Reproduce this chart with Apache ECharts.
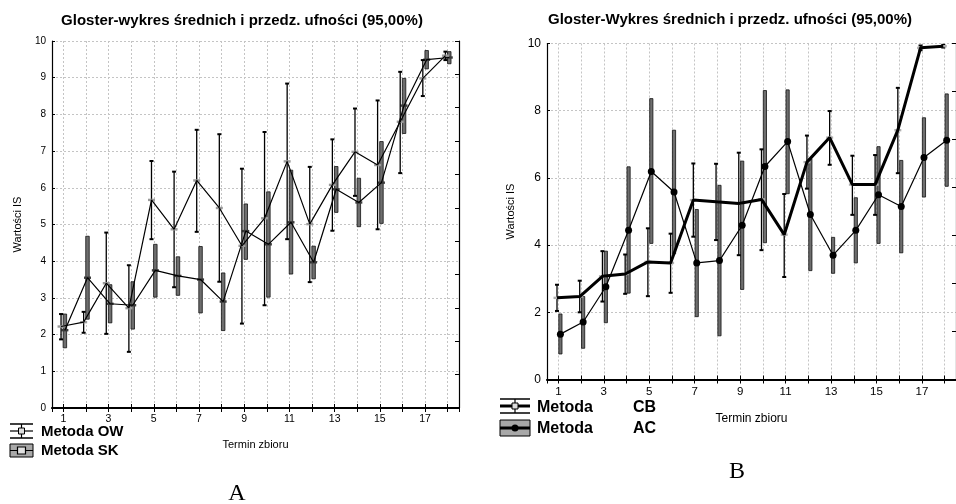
<!DOCTYPE html>
<html>
<head>
<meta charset="utf-8">
<script src="https://cdn.jsdelivr.net/npm/echarts@6/dist/echarts.min.js"></script>
<style>
  html, body { margin: 0; padding: 0; background: #fff; }
  #chart { width: 956px; height: 504px; }
</style>
</head>
<body>
<div id="chart"></div>
<script>
// termin zbioru 1..18
const terms = [1, 2, 3, 4, 5, 6, 7, 8, 9, 10, 11, 12, 13, 14, 15, 16, 17, 18]

// A: Metoda OW (wąsy) i Metoda SK (prostokąty)
const owMean = [2.22, 2.34, 3.40, 2.72, 5.67, 4.87, 6.20, 5.45, 4.42, 5.17, 6.72, 5.01, 6.08, 6.98, 6.62, 7.80, 8.98, 9.60]
const owLow = [1.87, 2.05, 2.02, 1.53, 4.60, 3.29, 4.80, 3.44, 2.30, 2.80, 4.60, 3.43, 4.83, 5.78, 4.87, 6.40, 8.50, 9.48]
const owHigh = [2.56, 2.62, 4.78, 3.89, 6.73, 6.44, 7.58, 7.46, 6.52, 7.52, 8.84, 6.57, 7.32, 8.16, 8.38, 9.16, 9.48, 9.71]
const skMean = [2.12, 3.55, 2.84, 2.80, 3.75, 3.60, 3.50, 2.90, 4.82, 4.46, 5.06, 3.97, 5.96, 5.60, 6.14, 8.24, 9.49, 9.55]
const skLow = [1.64, 2.42, 2.32, 2.15, 3.02, 3.07, 2.59, 2.11, 4.05, 3.02, 3.65, 3.52, 5.33, 4.94, 5.03, 7.48, 9.24, 9.38]
const skHigh = [2.56, 4.68, 3.36, 3.44, 4.46, 4.12, 4.40, 3.68, 5.56, 5.89, 6.48, 4.41, 6.58, 6.26, 7.26, 8.98, 9.74, 9.71]

// B: Metoda CB (wąsy, gruba linia) i Metoda AC (prostokąty, kropki)
const cbMean = [2.43, 2.47, 3.07, 3.14, 3.50, 3.47, 5.34, 5.29, 5.24, 5.36, 4.31, 6.47, 7.20, 5.80, 5.80, 7.42, 9.87, 9.92]
const cbLow = [2.04, 2.00, 2.32, 2.55, 2.48, 2.58, 4.25, 4.15, 3.70, 3.85, 3.05, 5.68, 6.39, 4.90, 4.90, 6.14, 9.80, 9.88]
const cbHigh = [2.82, 2.94, 3.82, 3.72, 4.50, 4.34, 6.43, 6.42, 6.75, 6.85, 5.52, 7.26, 7.99, 6.66, 6.68, 8.68, 9.94, 9.96]
const acMean = [1.35, 1.71, 2.76, 4.44, 6.19, 5.58, 3.47, 3.54, 4.59, 6.34, 7.08, 4.91, 3.70, 4.44, 5.50, 5.15, 6.61, 7.12]
const acLow = [0.76, 0.93, 1.69, 2.57, 4.05, 3.74, 1.87, 1.30, 2.68, 4.07, 5.53, 3.24, 3.16, 3.47, 4.05, 3.77, 5.43, 5.75]
const acHigh = [1.95, 2.47, 3.82, 6.33, 8.36, 7.42, 5.06, 5.78, 6.50, 8.60, 8.62, 6.57, 4.23, 5.41, 6.93, 6.52, 7.79, 8.50]

const SANS = '"Liberation Sans", Arial, sans-serif'
const SERIF = '"Liberation Serif", "Times New Roman", serif'
const GRID_COLOR = '#c4c4c4'

// przesunięcie serii względem terminu, żeby się nie nakładały
const shift = (arr, d) => terms.map((t, i) => [t + d, arr[i]])
const ci = (mean, low, high, d) => terms.map((t, i) => [t + d, low[i], high[i], mean[i]])

const whisker = (markFill) => (params, api) => {
  const x = api.value(0)
  const lo = api.coord([x, api.value(1)])
  const hi = api.coord([x, api.value(2)])
  const m = api.coord([x, api.value(3)])
  const cap = (p) => ({
    type: 'line',
    shape: { x1: p[0] - 2, y1: p[1], x2: p[0] + 2, y2: p[1] },
    style: { stroke: '#000', lineWidth: 2 }
  })
  return {
    type: 'group',
    children: [
      { type: 'line', shape: { x1: lo[0], y1: lo[1], x2: hi[0], y2: hi[1] }, style: { stroke: '#000', lineWidth: 1.3 } },
      cap(lo),
      cap(hi),
      { type: 'rect', shape: { x: m[0] - 3.5, y: m[1] - 1.2, width: 7, height: 2.4 }, style: { fill: markFill } }
    ]
  }
}

const box = (w, markFill) => (params, api) => {
  const x = api.value(0)
  const lo = api.coord([x, api.value(1)])
  const hi = api.coord([x, api.value(2)])
  const m = api.coord([x, api.value(3)])
  const children = [
    { type: 'rect', shape: { x: lo[0] - w / 2, y: hi[1], width: w, height: lo[1] - hi[1] }, style: { fill: '#6e6e6e', stroke: '#111', lineWidth: 0.8 } }
  ]
  if (markFill) {
    children.push({ type: 'rect', shape: { x: m[0] - 3.5, y: m[1] - 1.2, width: 7, height: 2.4 }, style: { fill: markFill } })
  }
  return { type: 'group', children }
}

const xBottom = (gridIndex, fontSize, nameGap, nameSize) => ({
  type: 'value',
  gridIndex,
  min: 0.5,
  max: 18.5,
  splitNumber: 18,
  minInterval: 1,
  maxInterval: 1,
  name: 'Termin zbioru',
  nameLocation: 'middle',
  nameGap,
  nameTextStyle: { fontFamily: SANS, fontSize: nameSize, color: '#000' },
  axisLine: { lineStyle: { color: '#000', width: 2 } },
  axisTick: { inside: true, length: 4, lineStyle: { color: '#000' } },
  axisLabel: {
    fontFamily: SANS,
    fontSize,
    color: '#000',
    margin: 6,
    showMinLabel: false,
    showMaxLabel: false,
    formatter: (v) => (v % 2 === 1 ? String(v) : '')
  },
  splitLine: { show: true, lineStyle: { color: GRID_COLOR, type: [2, 2] } }
})

const xTop = (gridIndex) => ({
  type: 'value',
  gridIndex,
  position: 'top',
  min: 0.5,
  max: 18.5,
  splitNumber: 18,
  minInterval: 1,
  maxInterval: 1,
  axisLine: { lineStyle: { color: '#000', width: 1.2 } },
  axisTick: { inside: true, length: 4, lineStyle: { color: '#000' } },
  axisLabel: { show: false },
  splitLine: { show: false }
})

const yLeft = (gridIndex, interval, fontSize, nameGap) => ({
  type: 'value',
  gridIndex,
  min: 0,
  max: 10,
  interval,
  name: 'Wartości IS',
  nameLocation: 'middle',
  nameGap,
  nameTextStyle: { fontFamily: SANS, fontSize: 11, color: '#000' },
  axisLine: { show: true, lineStyle: { color: '#000', width: 1.2 } },
  axisTick: { show: true, inside: true, length: 3, lineStyle: { color: '#000' } },
  axisLabel: { fontFamily: SANS, fontSize, color: '#000', margin: 6 },
  splitLine: { show: true, lineStyle: { color: GRID_COLOR, type: [2, 2] } }
})

const yRight = (gridIndex, max) => ({
  type: 'value',
  gridIndex,
  position: 'right',
  min: 0,
  max,
  interval: 1,
  axisLine: { show: true, lineStyle: { color: '#000', width: 1.2 } },
  axisTick: { show: true, inside: true, length: 4, lineStyle: { color: '#000' } },
  axisLabel: { show: false },
  splitLine: { show: false }
})

const text = (x, y, str, font, align = 'left') => ({
  type: 'text',
  x,
  y,
  style: { text: str, font, fill: '#000', align, verticalAlign: 'middle' }
})

// ikony legendy
const whiskerIcon = (x, y, w, h, thick) => ({
  type: 'group',
  children: [
    { type: 'line', shape: { x1: x, y1: y, x2: x + w, y2: y }, style: { stroke: '#000', lineWidth: 1.5 } },
    { type: 'line', shape: { x1: x, y1: y + h, x2: x + w, y2: y + h }, style: { stroke: '#000', lineWidth: 1.5 } },
    { type: 'line', shape: { x1: x + w / 2, y1: y, x2: x + w / 2, y2: y + h }, style: { stroke: '#000', lineWidth: 1.2 } },
    { type: 'line', shape: { x1: x, y1: y + h / 2, x2: x + w, y2: y + h / 2 }, style: { stroke: '#000', lineWidth: thick } },
    { type: 'rect', shape: { x: x + w / 2 - 3, y: y + h / 2 - 3, width: 6, height: 6 }, style: { fill: '#ddd', stroke: '#000', lineWidth: 1 } }
  ]
})

const boxIcon = (x, y, w, h, thick, dot) => ({
  type: 'group',
  children: [
    { type: 'rect', shape: { x, y, width: w, height: h }, style: { fill: '#a8a8a8', stroke: '#000', lineWidth: 1 } },
    { type: 'line', shape: { x1: x, y1: y + h / 2, x2: x + w, y2: y + h / 2 }, style: { stroke: '#000', lineWidth: thick } },
    dot
      ? { type: 'circle', shape: { cx: x + w / 2, cy: y + h / 2, r: 3.5 }, style: { fill: '#000' } }
      : { type: 'rect', shape: { x: x + w / 2 - 4, y: y + h / 2 - 3.5, width: 8, height: 7 }, style: { fill: '#e0e0e0', stroke: '#000', lineWidth: 1.2 } }
  ]
})

const chart = echarts.init(document.getElementById('chart'), null, { renderer: 'canvas' })

chart.setOption({
  backgroundColor: '#fff',
  animation: false,
  grid: [
    { left: 52, top: 41, width: 407, height: 367 },
    { left: 547, top: 43.5, width: 410, height: 336 }
  ],
  xAxis: [
    xBottom(0, 10.5, 31, 11),
    xTop(0),
    xBottom(1, 11.5, 33, 12),
    xTop(1)
  ],
  yAxis: [
    yLeft(0, 1, 10, 29),
    yRight(0, 11),
    yLeft(1, 2, 12, 31),
    yRight(1, 7)
  ],
  graphic: [
    text(242, 21, 'Gloster-wykres średnich i przedz. ufności (95,00%)', 'bold 15px ' + SANS, 'center'),
    text(730, 20, 'Gloster-Wykres średnich i przedz. ufności (95,00%)', 'bold 15px ' + SANS, 'center'),
    whiskerIcon(10, 424, 23, 14, 1.2),
    text(41, 432, 'Metoda OW', 'bold 15px ' + SANS),
    boxIcon(10, 444, 23, 13, 1, false),
    text(41, 450.5, 'Metoda SK', 'bold 15px ' + SANS),
    whiskerIcon(500, 399, 30, 14, 3),
    text(537, 407.5, 'Metoda', 'bold 16px ' + SANS),
    text(633, 407.5, 'CB', 'bold 16px ' + SANS),
    boxIcon(500, 420, 30, 16, 3, true),
    text(537, 429, 'Metoda', 'bold 16px ' + SANS),
    text(633, 429, 'AC', 'bold 16px ' + SANS),
    text(237, 494, 'A', '24px ' + SERIF, 'center'),
    text(737, 472, 'B', '24px ' + SERIF, 'center')
  ],
  series: [
    // A
    {
      type: 'custom', xAxisIndex: 0, yAxisIndex: 0, z: 2,
      renderItem: box(3.5, '#3a3a3a'),
      encode: { x: 0, y: [1, 2, 3] },
      data: ci(skMean, skLow, skHigh, 0.07)
    },
    {
      type: 'custom', xAxisIndex: 0, yAxisIndex: 0, z: 3,
      renderItem: whisker('#9a9a9a'),
      encode: { x: 0, y: [1, 2, 3] },
      data: ci(owMean, owLow, owHigh, -0.1)
    },
    {
      type: 'line', xAxisIndex: 0, yAxisIndex: 0, z: 4, showSymbol: false, symbol: 'none',
      lineStyle: { color: '#000', width: 1.2 },
      data: shift(owMean, -0.1)
    },
    {
      type: 'line', xAxisIndex: 0, yAxisIndex: 0, z: 4, showSymbol: false, symbol: 'none',
      lineStyle: { color: '#000', width: 1.2 },
      data: shift(skMean, 0.07)
    },
    // B
    {
      type: 'custom', xAxisIndex: 2, yAxisIndex: 2, z: 2,
      renderItem: box(3.2, null),
      encode: { x: 0, y: [1, 2, 3] },
      data: ci(acMean, acLow, acHigh, 0.09)
    },
    {
      type: 'custom', xAxisIndex: 2, yAxisIndex: 2, z: 3,
      renderItem: whisker('#b0b0b0'),
      encode: { x: 0, y: [1, 2, 3] },
      data: ci(cbMean, cbLow, cbHigh, -0.06)
    },
    {
      type: 'line', xAxisIndex: 2, yAxisIndex: 2, z: 4, symbol: 'none',
      lineStyle: { color: '#000', width: 3 },
      data: shift(cbMean, -0.06)
    },
    {
      type: 'line', xAxisIndex: 2, yAxisIndex: 2, z: 5, symbol: 'circle', symbolSize: 7,
      itemStyle: { color: '#000' },
      lineStyle: { color: '#000', width: 1.2 },
      data: shift(acMean, 0.09)
    }
  ]
})
</script>
</body>
</html>
